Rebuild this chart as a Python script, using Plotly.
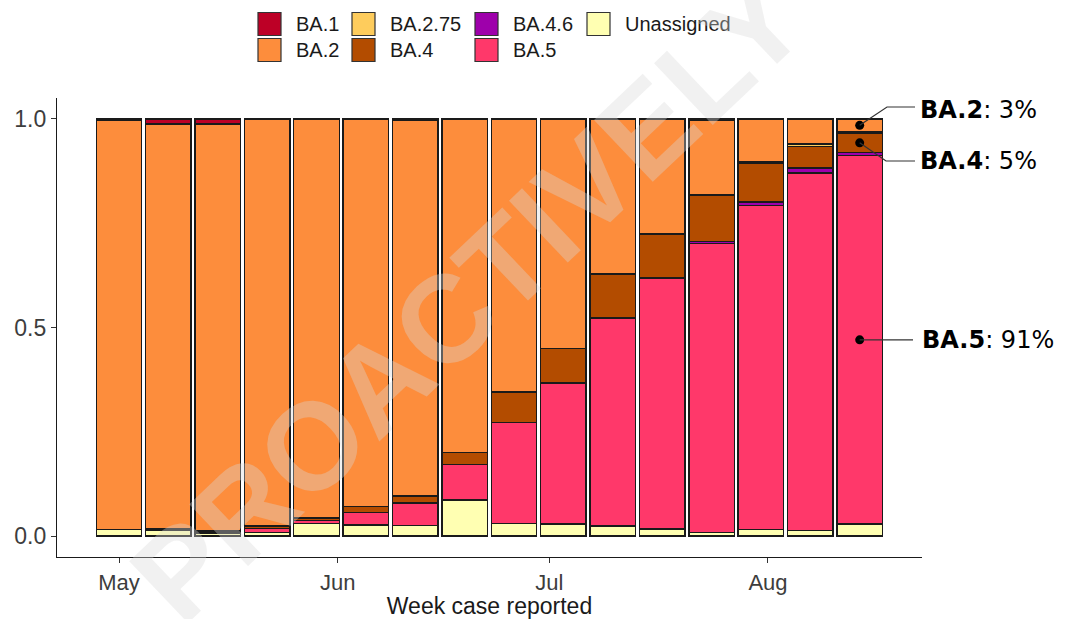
import pandas as pd
import plotly.graph_objects as go

# Weekly share of sequenced cases by lineage (week start dates)
weeks = ["2022-05-01", "2022-05-08", "2022-05-15", "2022-05-22", "2022-05-29",
         "2022-06-05", "2022-06-12", "2022-06-19", "2022-06-26", "2022-07-03",
         "2022-07-10", "2022-07-17", "2022-07-24", "2022-07-31", "2022-08-07",
         "2022-08-14"]

unassigned = [0.016, 0.014, 0.007, 0.009, 0.031, 0.027, 0.025, 0.087, 0.030, 0.029,
              0.024, 0.017, 0.009, 0.016, 0.013, 0.029]
ba5 = [0.000, 0.000, 0.002, 0.010, 0.006, 0.030, 0.054, 0.084, 0.242, 0.337,
       0.498, 0.602, 0.693, 0.776, 0.857, 0.883]
ba46 = [0.000, 0.000, 0.000, 0.000, 0.000, 0.000, 0.000, 0.000, 0.000, 0.002,
        0.002, 0.000, 0.004, 0.009, 0.012, 0.008]
ba4 = [0.000, 0.003, 0.003, 0.005, 0.006, 0.014, 0.017, 0.030, 0.073, 0.082,
       0.104, 0.105, 0.110, 0.093, 0.052, 0.045]
ba275 = [0.000, 0.000, 0.000, 0.000, 0.000, 0.000, 0.000, 0.000, 0.000, 0.000,
         0.000, 0.000, 0.003, 0.004, 0.006, 0.004]
ba2 = [0.981, 0.971, 0.976, 0.976, 0.957, 0.929, 0.900, 0.799, 0.655, 0.550,
       0.372, 0.276, 0.177, 0.102, 0.060, 0.031]
ba1 = [0.003, 0.012, 0.012, 0.000, 0.000, 0.000, 0.004, 0.000, 0.000, 0.000,
       0.000, 0.000, 0.004, 0.000, 0.000, 0.000]

# Stacking order, bottom to top
lineages = ["Unassigned", "BA.5", "BA.4.6", "BA.4", "BA.2.75", "BA.2", "BA.1"]
series = [unassigned, ba5, ba46, ba4, ba275, ba2, ba1]
colors = {
    "BA.1": "#bd0026",
    "BA.2": "#fd8d3c",
    "BA.2.75": "#fecc5c",
    "BA.4": "#b34c00",
    "BA.4.6": "#9e00ab",
    "BA.5": "#ff386a",
    "Unassigned": "#ffffb2",
}

month_ticks = ["2022-05-01", "2022-06-01", "2022-07-01", "2022-08-01"]
month_labels = ["May", "Jun", "Jul", "Aug"]
y_ticks = [0, 0.5, 1.0]
y_tick_labels = ["0.0", "0.5", "1.0"]

W, H = 1082, 619
M = dict(l=57, r=160, t=98, b=62)
X_RANGE = ["2022-04-22 05:00", "2022-08-22 20:00"]
Y_RANGE = [-0.05, 1.05]
BAR_WIDTH_MS = 6.45 * 86400000

fig = go.Figure()
for name, vals in zip(lineages, series):
    fig.add_trace(go.Bar(
        x=weeks,
        y=[v if v > 0 else None for v in vals],
        name=name,
        width=BAR_WIDTH_MS,
        marker=dict(color=colors[name], line=dict(color="#1a1a1a", width=1.4)),
        showlegend=False,
    ))

# --- helpers to place layout items ---
pw = W - M["l"] - M["r"]
ph = H - M["t"] - M["b"]


def px_x(p):
    return (p - M["l"]) / pw


def px_y(p):
    return (H - M["b"] - p) / ph


t0 = pd.Timestamp(X_RANGE[0])
t1 = pd.Timestamp(X_RANGE[1])


def date_to_paper(d):
    return (pd.Timestamp(d) - t0) / (t1 - t0)


def val_to_paper(v):
    return (v - Y_RANGE[0]) / (Y_RANGE[1] - Y_RANGE[0])


# --- labels for the latest week (share among assigned sequences) ---
last = len(weeks) - 1
assigned = 1 - unassigned[last]
cum = {}
base = 0.0
for name, vals in zip(lineages, series):
    cum[name] = (base, base + vals[last])
    base += vals[last]

callouts = [
    ("BA.2", ba2[last] / assigned, [(887, 107), (915, 107)], (918, 110)),
    ("BA.4", ba4[last] / assigned, [(886, 161), (915, 161)], (918, 161)),
    ("BA.5", ba5[last] / assigned, [(913, None)], (920, None)),
]

dot_y = []
for name, share, bends, text_pos in callouts:
    lo, hi = cum[name]
    mid = (lo + hi) / 2
    dot_y.append(mid)
    x0, y0 = date_to_paper(weeks[last]), val_to_paper(mid)
    path = f"M {x0},{y0}"
    for bx, by in bends:
        yy = y0 if by is None else px_y(by)
        path += f" L {px_x(bx)},{yy}"
    fig.add_shape(type="path", path=path, xref="paper", yref="paper",
                  line=dict(color="#333333", width=1.2))
    ty = y0 if text_pos[1] is None else px_y(text_pos[1])
    fig.add_annotation(
        x=px_x(text_pos[0]), y=ty, xref="paper", yref="paper",
        text=f"<b>{name}</b>: {share * 100:.0f}%",
        showarrow=False, xanchor="left", yanchor="middle",
        font=dict(family="DejaVu Sans", size=24, color="#000000"),
    )

fig.add_trace(go.Scatter(
    x=[weeks[last]] * len(dot_y), y=dot_y, mode="markers",
    marker=dict(color="#000000", size=9), showlegend=False, hoverinfo="skip",
))

# --- legend: two rows, filled column by column ---
legend_order = ["BA.1", "BA.2", "BA.2.75", "BA.4", "BA.4.6", "BA.5", "Unassigned"]
col_left = [258, 352, 475, 587]
row_top = [12.5, 38.5]
sw = 23
for i, name in enumerate(legend_order):
    c, r = divmod(i, 2)
    lx, ty = col_left[c], row_top[r]
    fig.add_shape(type="rect", xref="paper", yref="paper",
                  x0=px_x(lx), x1=px_x(lx + sw), y0=px_y(ty + sw), y1=px_y(ty),
                  fillcolor=colors[name], line=dict(color="#333333", width=1.2))
    fig.add_annotation(x=px_x(lx + 36), y=px_y(ty + sw / 2), xref="paper", yref="paper",
                       text=name, showarrow=False, xanchor="left", yanchor="middle",
                       font=dict(family="Liberation Sans", size=20, color="#1a1a1a"))

# --- watermark ---
fig.add_annotation(x=px_x(468), y=px_y(298), xref="paper", yref="paper",
                   text="<b>PROACTIVELY</b>", showarrow=False, textangle=-43.5,
                   font=dict(family="Liberation Sans", size=124,
                             color="rgba(215,215,215,0.36)"))

fig.update_layout(
    width=W, height=H, margin=dict(M, autoexpand=False),
    barmode="stack",
    plot_bgcolor="white", paper_bgcolor="white",
    font=dict(family="Liberation Sans", color="#1a1a1a"),
    xaxis=dict(
        type="date", range=X_RANGE, automargin=False,
        tickvals=month_ticks, ticktext=month_labels,
        ticks="outside", ticklen=5, tickcolor="#333333", tickwidth=1.2,
        tickfont=dict(size=22, color="#3d3d3d"),
        showline=True, linecolor="#1a1a1a", linewidth=1.3,
        showgrid=False, zeroline=False,
        title=dict(text="Week case reported", font=dict(size=23, color="#1a1a1a"), standoff=4),
    ),
    yaxis=dict(
        range=Y_RANGE, tickvals=y_ticks, ticktext=y_tick_labels, automargin=False,
        ticks="outside", ticklen=5, tickcolor="#333333", tickwidth=1.2,
        tickfont=dict(size=23, color="#3d3d3d"),
        showline=True, linecolor="#1a1a1a", linewidth=1.3,
        showgrid=False, zeroline=False,
    ),
)

fig.write_html("out.html")
